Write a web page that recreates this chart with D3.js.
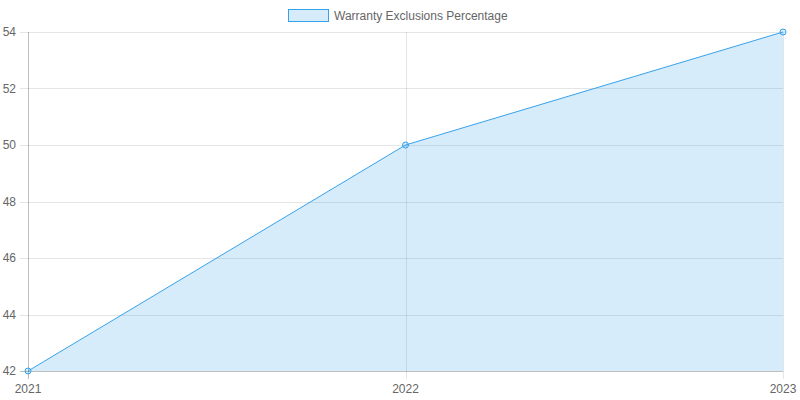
<!DOCTYPE html>
<html><head><meta charset="utf-8">
<script src="https://cdn.jsdelivr.net/npm/d3@7"></script>
<style>body{margin:0;background:#fff}svg{display:block}text{font-family:"Liberation Sans",Arial,Helvetica,sans-serif}</style>
</head><body><svg id="c" width="800" height="400"></svg>
<script>
const categories = ["2021","2022","2023"];
const values = [42, 50, 54];
const yTicks = [42,44,46,48,50,52,54];
const seriesName = "Warranty Exclusions Percentage";

const W=800,H=400, m={l:28,r:17,t:32,b:29};
const svg=d3.select("#c");
const x=d3.scalePoint().domain(categories).range([m.l,W-m.r]);
const y=d3.scaleLinear().domain([42,54]).range([H-m.b,m.t]);
const line="rgb(54,162,235)", fill="rgba(54,162,235,0.2)", grid="rgba(0,0,0,0.1)";

// horizontal grid
svg.append("g").selectAll("line").data(yTicks).join("line")
  .attr("x1",m.l-8).attr("x2",W-m.r).attr("y1",d=>Math.round(y(d))+0.5).attr("y2",d=>Math.round(y(d))+0.5)
  .attr("stroke",d=>d===42?"rgba(0,0,0,0.25)":grid);
// vertical grid
svg.append("g").selectAll("line").data(categories).join("line")
  .attr("x1",d=>Math.round(x(d))+0.5).attr("x2",d=>Math.round(x(d))+0.5)
  .attr("y1",m.t).attr("y2",H-m.b+8)
  .attr("stroke",(d,i)=>i===0?"rgba(0,0,0,0.25)":grid);

// y labels
svg.append("g").selectAll("text").data(yTicks).join("text")
  .attr("x",m.l-12).attr("y",d=>y(d)).attr("dy","0.35em").attr("text-anchor","end")
  .attr("font-size",12).attr("fill","#666").text(d=>d);
// x labels
svg.append("g").selectAll("text").data(categories).join("text")
  .attr("x",d=>x(d)).attr("y",H-m.b+18).attr("dy","0.35em").attr("text-anchor","middle")
  .attr("font-size",12).attr("fill","#666").text(d=>d);

const data=categories.map((c,i)=>({c,v:values[i]}));
svg.append("path").datum(data)
  .attr("d",d3.area().x(d=>x(d.c)).y0(y(42)).y1(d=>y(d.v)))
  .attr("fill",fill);
svg.append("path").datum(data)
  .attr("d",d3.line().x(d=>x(d.c)).y(d=>y(d.v)))
  .attr("fill","none").attr("stroke",line).attr("stroke-width",1);
svg.append("g").selectAll("circle").data(data).join("circle")
  .attr("cx",d=>x(d.c)).attr("cy",d=>y(d.v)).attr("r",3)
  .attr("fill",fill).attr("stroke",line).attr("stroke-width",1);

// legend
const lg=svg.append("g");
lg.append("rect").attr("x",288.5).attr("y",9.5).attr("width",40).attr("height",12)
  .attr("fill",fill).attr("stroke",line).attr("stroke-width",1);
lg.append("text").attr("x",334).attr("y",15.5).attr("dy","0.35em").attr("font-size",12)
  .attr("fill","#666").text(seriesName);
</script></body></html>
